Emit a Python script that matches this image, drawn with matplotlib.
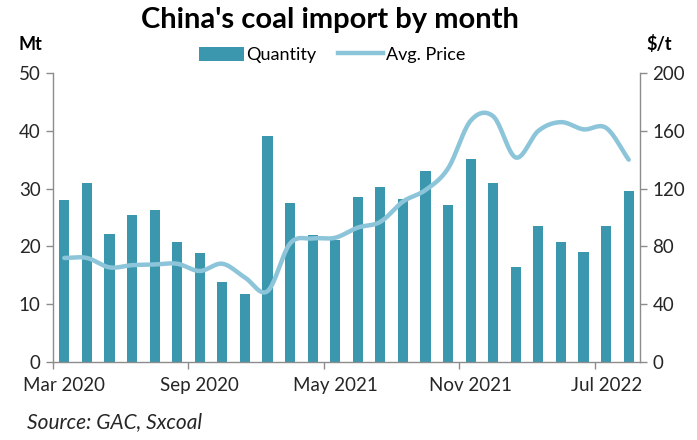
import numpy as np
import matplotlib
matplotlib.use("Agg")
import matplotlib.pyplot as plt
from matplotlib.lines import Line2D
from matplotlib.patches import Patch

plt.rcParams['font.family'] = ['Lato', 'DejaVu Sans']

# Monthly data (Jan/Feb not reported separately)
months = ["Mar 2020", "Apr 2020", "May 2020", "Jun 2020", "Jul 2020", "Aug 2020",
          "Sep 2020", "Oct 2020", "Nov 2020", "Dec 2020", "Mar 2021", "Apr 2021",
          "May 2021", "Jun 2021", "Jul 2021", "Aug 2021", "Sep 2021", "Oct 2021",
          "Nov 2021", "Dec 2021", "Mar 2022", "Apr 2022", "May 2022", "Jun 2022",
          "Jul 2022", "Aug 2022"]
quantity_mt = [28.0, 30.9, 22.2, 25.4, 26.3, 20.8, 18.8, 13.8, 11.8, 39.1, 27.5, 22.0,
               21.1, 28.6, 30.3, 28.2, 33.0, 27.2, 35.1, 31.0, 16.4, 23.6, 20.8, 19.1,
               23.6, 29.5]
price_usd_t = [72, 72, 65.5, 67, 67.5, 68, 63, 68, 58.5, 49, 82, 85.5, 86, 93, 97,
               111, 119, 134, 167, 170, 141.5, 160, 166, 161, 162, 140]
label_months = ["Mar 2020", "Sep 2020", "May 2021", "Nov 2021", "Jul 2022"]

bar_color = "#3b97ae"
line_color = "#8cc5d9"
axis_color = "#8c8c8c"
text_color = "#262626"
tick_size = 13.5


def smooth_curve(x, y, steps=20):
    """Catmull-Rom style smoothing through every point."""
    x = np.asarray(x, float)
    y = np.asarray(y, float)
    n = len(x)
    xs, ys = [], []
    for i in range(n - 1):
        p0 = y[i - 1] if i > 0 else y[i]
        p3 = y[i + 2] if i + 2 < n else y[i + 1]
        p1, p2 = y[i], y[i + 1]
        m1 = (p2 - p0) / 2 if i > 0 else (p2 - p1)
        m2 = (p3 - p1) / 2 if i + 2 < n else (p2 - p1)
        t = np.linspace(0, 1, steps, endpoint=(i == n - 2))
        h00 = 2 * t**3 - 3 * t**2 + 1
        h10 = t**3 - 2 * t**2 + t
        h01 = -2 * t**3 + 3 * t**2
        h11 = t**3 - t**2
        xs.append(x[i] + t * (x[i + 1] - x[i]))
        ys.append(h00 * p1 + h10 * m1 + h01 * p2 + h11 * m2)
    return np.concatenate(xs), np.concatenate(ys)


fig = plt.figure(figsize=(6.97, 4.4), dpi=100)
ax = fig.add_axes([53 / 697, 78 / 440, 587 / 697, 289 / 440])
ax2 = ax.twinx()

x = np.arange(len(months))
ax.bar(x, quantity_mt, width=0.45, color=bar_color, zorder=2)
sx, sy = smooth_curve(x, price_usd_t)
ax2.plot(sx, sy, color=line_color, lw=3.2, solid_capstyle='round', zorder=3)

ax.set_xlim(-0.5, len(months) - 0.5)
ax.set_ylim(0, 50)
ax2.set_ylim(0, 200)
ax.set_yticks(np.arange(0, 51, 10))
ax2.set_yticks(np.arange(0, 201, 40))

label_pos = [months.index(m) for m in label_months]
ax.set_xticks(label_pos)
ax.set_xticklabels(label_months)
ax.set_xticks([p - 0.5 for p in label_pos], minor=True)
ax.tick_params(axis='x', which='major', length=0, pad=11, labelsize=tick_size, colors=text_color)
ax.tick_params(axis='x', which='minor', length=5, width=1, color=axis_color, direction='out')

ax.tick_params(axis='y', length=5, width=1, color=axis_color, labelsize=tick_size,
               labelcolor=text_color, pad=4)
ax2.tick_params(axis='y', length=5, width=1, color=axis_color, labelsize=tick_size,
                labelcolor=text_color, pad=4)

for a in (ax, ax2):
    a.spines['top'].set_visible(False)
    for side in ("left", "right", "bottom"):
        a.spines[side].set_color(axis_color)
        a.spines[side].set_linewidth(1)
ax.spines['right'].set_visible(False)
ax2.spines['left'].set_visible(False)
ax2.spines['bottom'].set_visible(False)
ax.set_zorder(ax2.get_zorder() - 1)
ax2.patch.set_visible(False)

fig.text(330 / 697, 1 - 20 / 440, "China's coal import by month", ha='center', va='center',
         fontsize=21, fontweight='bold', color='black')
fig.text(30 / 697, 1 - 44 / 440, "Mt", ha='center', va='center', fontsize=13,
         fontweight='bold', color='black')
fig.text(659 / 697, 1 - 44 / 440, "$/t", ha='center', va='center', fontsize=13,
         fontweight='bold', color='black')
fig.text(27 / 697, 1 - 422 / 440, "Source: GAC, Sxcoal", ha='left', va='center',
         fontsize=15, fontstyle='italic', color=text_color)

handles = [Patch(facecolor=bar_color, edgecolor='none'),
           Line2D([], [], color=line_color, lw=3.2)]
fig.legend(handles, ["Quantity", "Avg. Price"], loc='center', ncol=2,
           bbox_to_anchor=(332 / 697, 1 - 55 / 440), frameon=False, fontsize=13,
           handlelength=2.5, handleheight=0.8, handletextpad=0.15, columnspacing=1.2,
           borderpad=0)

fig.savefig("out.png", dpi=100)
